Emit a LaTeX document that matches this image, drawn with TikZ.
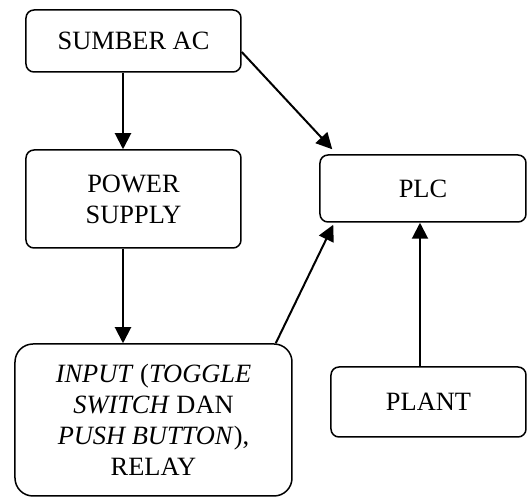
\documentclass[tikz,border=0pt]{standalone}
\usepackage{fontspec}
\setmainfont{Liberation Serif}
\usetikzlibrary{arrows.meta}
\begin{document}
\begin{tikzpicture}[x=0.5pt,y=-0.5pt,
  box/.style={draw,line width=0.75pt,rounded corners=4pt,align=center,
    font=\fontsize{13.2pt}{15.5pt}\selectfont,inner sep=0pt},
  arr/.style={line width=1pt,-{Triangle[length=8pt,width=8pt]}}]
\useasboundingbox (0,0) rectangle (527,497);
\node[box,minimum width=107.5pt,minimum height=31pt] (sumber) at (133.5,41) {SUMBER AC};
\node[box,minimum width=107.5pt,minimum height=49pt] (power) at (133.5,199) {POWER\\SUPPLY};
\node[box,rounded corners=9pt,minimum width=138.5pt,minimum height=76pt] (input) at (153.5,420)
  {\textit{INPUT} (\textit{TOGGLE}\\\textit{SWITCH} DAN\\\textit{PUSH BUTTON}),\\RELAY};
\node[box,minimum width=103pt,minimum height=33.5pt] (plc) at (423,188.5) {PLC};
\node[box,minimum width=97.5pt,minimum height=35pt] (plant) at (428.5,402) {PLANT};
\draw[arr] ([xshift=-5.25pt]sumber.south) -- ([xshift=-5.25pt]power.north);
\draw[arr] ([xshift=-5.25pt]power.south) -- ([xshift=-15.25pt]input.north);
\draw[arr] ([yshift=-5.5pt]sumber.east) -- ([xshift=6.5pt,yshift=2.5pt]plc.north west);
\draw[arr] ([xshift=-8.5pt]input.north east) -- ([xshift=7pt,yshift=-1pt]plc.south west);
\draw[arr] ([xshift=-4.25pt]plant.north) -- ([xshift=-1.5pt]plc.south);
\end{tikzpicture}
\end{document}
